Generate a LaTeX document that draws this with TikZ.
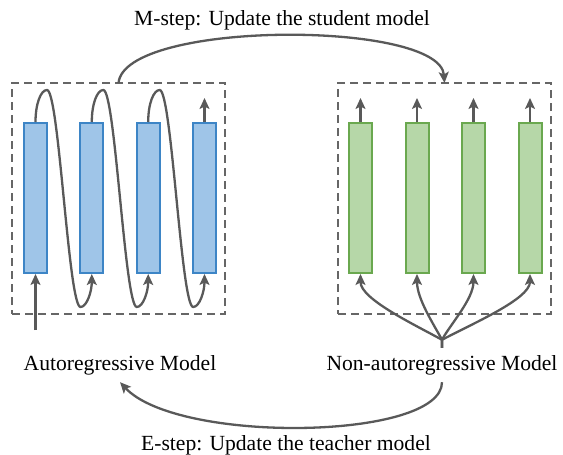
\documentclass[tikz,border=0pt]{standalone}
\usepackage{fontspec}
\setmainfont{Liberation Serif}
\usetikzlibrary{arrows.meta,calc}
\definecolor{bluefill}{HTML}{9FC5E8}
\definecolor{bluedraw}{HTML}{3D85C6}
\definecolor{greenfill}{HTML}{B6D7A8}
\definecolor{greendraw}{HTML}{6AA84F}
\definecolor{arrowgray}{HTML}{595959}
\definecolor{boxgray}{HTML}{666666}
\begin{document}
\begin{tikzpicture}[x=1pt,y=-1pt,
  arbar/.style={draw=bluedraw, fill=bluefill, line width=2pt, minimum width=23pt, minimum height=150pt, inner sep=0pt},
  narbar/.style={draw=greendraw, fill=greenfill, line width=2pt, minimum width=23pt, minimum height=150pt, inner sep=0pt},
  dbox/.style={draw=boxgray, line width=2pt, dash pattern=on 8pt off 5pt, minimum width=213pt, minimum height=231pt, inner sep=0pt, outer sep=0pt},
  arr/.style={draw=arrowgray, line width=2.3pt, -{Stealth[length=11pt,width=10pt,inset=2.5pt]}},
  lbl/.style={font=\fontsize{21.6}{26}\selectfont, inner xsep=0pt, inner ysep=7pt, text height=15pt, text depth=5pt, anchor=base}
]
\useasboundingbox (0,0) rectangle (563,455);

% dashed boxes
\node[dbox] (lbox) at (118.5,198.5) {};
\node[dbox] (rbox) at (444.5,198.5) {};

% bars
\node[arbar] (a1) at (35.5,198) {};
\node[arbar] (a2) at (91.8,198) {};
\node[arbar] (a3) at (148.2,198) {};
\node[arbar] (a4) at (204.5,198) {};
\node[narbar] (n1) at (360.5,198) {};
\node[narbar] (n2) at (417,198) {};
\node[narbar] (n3) at (473.5,198) {};
\node[narbar] (n4) at (530,198) {};

% labels
\node[lbl] (ar) at (120,370) {Autoregressive Model};
\node[lbl] (nar) at (442,370) {Non-autoregressive Model};
\node[lbl] (mstep) at (282,26) {M-step: Update the student model};
\node[lbl] (estep) at (286,450) {E-step: Update the teacher model};

% autoregressive loops
\foreach \i/\j in {1/2,2/3,3/4}{
  \draw[arr] (a\i.north) .. controls +(0,-18) and +(-6.3,0) .. ++(11.5,-32)
     .. controls +(12,0) and +(-12,0) .. ++(33.5,217)
     .. controls +(6.3,0) and +(0,17.6) .. (a\j.south);
}
\coordinate (ain) at (35.5,330);
\draw[arr] (ain) -- (a1.south);
\coordinate (atop) at ($(a4.north)+(0,-24)$);
\draw[arr] (a4.north) -- (atop);

% non-autoregressive outputs
\foreach \i in {1,...,4}{
  \coordinate (nt\i) at ($(n\i.north)+(0,-24)$);
  \draw[arr] (n\i.north) -- (nt\i);
}

% fan
\coordinate (fan) at ($(nar.north)+(0,-8)$);
\draw[arr] (nar.north) -- (fan) .. controls +(-29,-16) and +(0,25) .. (n1.south);
\draw[arr] (nar.north) -- (fan) .. controls +(-8,-15) and +(0,25) .. (n2.south);
\draw[arr] (nar.north) -- (fan) .. controls +(8,-15) and +(0,25) .. (n3.south);
\draw[arr] (nar.north) -- (fan) .. controls +(30,-16) and +(0,25) .. (n4.south);

% M-step and E-step
\draw[arr] (lbox.north) .. controls +(6,-63) and +(-4.5,-63) .. (rbox.north);
\draw[arr] (nar.south) .. controls +(0,58) and +(58,62) .. (ar.south);
\end{tikzpicture}
\end{document}
